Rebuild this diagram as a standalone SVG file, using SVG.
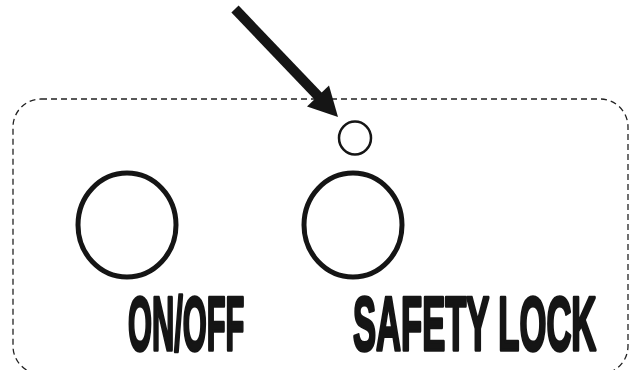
<svg xmlns="http://www.w3.org/2000/svg" width="631" height="370" viewBox="0 0 631 370">
<style>
.panel{fill:none;stroke:#222;stroke-width:1.3;stroke-dasharray:6 4}
.btn{fill:none;stroke:#151515;stroke-width:5}
.led{fill:none;stroke:#151515;stroke-width:2.5}
.lbl{font-family:"Liberation Sans",Arial,sans-serif;font-weight:bold;font-size:76px;fill:#151515;stroke:#151515;stroke-width:3.5;stroke-linejoin:round}
</style>
<g id="panel"><rect class="panel" x="13" y="99" width="615" height="275" rx="28" ry="28"/></g>
<g id="onoff">
<ellipse class="btn" cx="127" cy="225" rx="49" ry="52"/>
<text class="lbl" transform="translate(128,350) scale(0.405,1)">ON/OFF</text>
</g>
<g id="safetylock">
<ellipse class="btn" cx="353" cy="225" rx="49" ry="52"/>
<text class="lbl" transform="translate(353,350) scale(0.455,1)">SAFETY LOCK</text>
</g>
<g id="indicator"><ellipse class="led" cx="355" cy="138" rx="16" ry="16.5"/></g>
<g id="connectors">
<line x1="235" y1="9" x2="320" y2="98" stroke="#151515" stroke-width="10"/>
<polygon points="338,117 307,106.5 329,85.5" fill="#151515"/>
</g>
</svg>
